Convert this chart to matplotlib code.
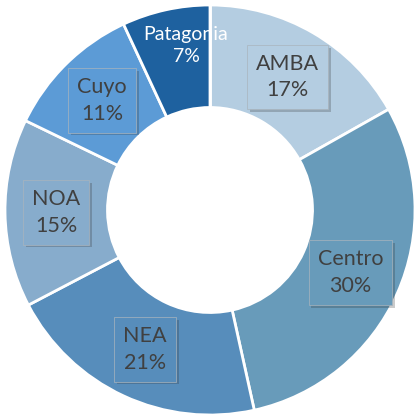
import matplotlib.pyplot as plt
import matplotlib.patheffects as pe
import numpy as np

regions = ["AMBA", "Centro", "NEA", "NOA", "Cuyo", "Patagonia"]
shares = [17, 30, 21, 15, 11, 7]
colors = ["#b4cde1", "#689bba", "#578dbb", "#87accc", "#5c9bd6", "#1e619f"]

plt.rcParams['font.family'] = ['Lato', 'DejaVu Sans']

fig = plt.figure(figsize=(4.17, 4.18), dpi=100)
ax = fig.add_axes([0, 0, 1, 1])
ax.set_aspect('equal')

wedges, _ = ax.pie(shares, colors=colors, startangle=90, counterclock=False,
                   radius=1.0,
                   wedgeprops=dict(width=0.5, edgecolor='white', linewidth=2))

# labels sit at 3/4 of the radius, in the middle of each wedge
for w, name, val, col in zip(wedges, regions, shares, colors):
    mid = np.deg2rad((w.theta1 + w.theta2) / 2)
    x, y = 0.75 * np.cos(mid), 0.75 * np.sin(mid)
    if name == "Patagonia":
        ax.text(x + 0.045, y + 0.07, f"{name}\n{val}%", ha='center', va='center',
                fontsize=14, color='white', linespacing=1.4, zorder=3)
        continue
    t = ax.text(x, y, f"{name}\n{val}%", ha='center', va='center',
                fontsize=15.5, color='#404040', linespacing=1.4, zorder=5,
                bbox=dict(boxstyle='square,pad=0.42', fc=col, ec='#a9b4bd', lw=0.5))
    t.get_bbox_patch().set_path_effects([
        pe.SimplePatchShadow(offset=(2, -2), shadow_rgbFace='#303030', alpha=0.25),
        pe.Normal()])

# white seam between Patagonia and AMBA drawn over the label
ax.plot([0, 0], [0.5, 1.0], color='white', lw=2, zorder=4)

ax.set_xlim(-210 / 205, 207 / 205)
ax.set_ylim(-208 / 205, 210 / 205)
ax.axis('off')

fig.savefig("out.png", dpi=100)
